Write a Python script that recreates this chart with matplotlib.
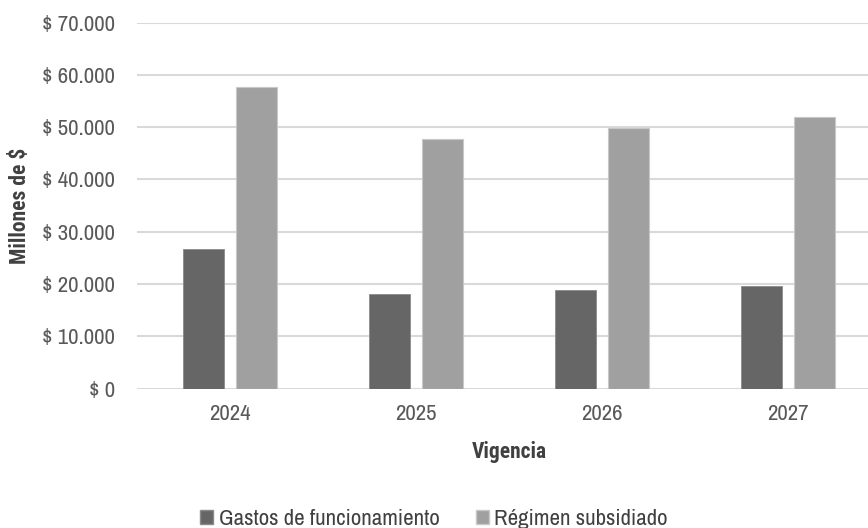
import matplotlib
matplotlib.use("Agg")
import matplotlib.pyplot as plt
import numpy as np
from matplotlib.ticker import FuncFormatter, MultipleLocator
from matplotlib.patches import Patch
from matplotlib import font_manager

categories = ["2024", "2025", "2026", "2027"]
gastos = [26750, 18090, 18780, 19550]
regimen = [57650, 47780, 49800, 51900]
series_names = ["Gastos de funcionamiento", "Régimen subsidiado"]

available = set(f.name for f in font_manager.fontManager.ttflist)
def pick(cands):
    for c in cands:
        if c in available:
            return c
    return 'Liberation Sans'
reg_font = pick(['Liberation Sans Narrow', 'Arial Narrow', 'Archivo Narrow', 'Roboto Condensed'])
bold_font = pick(['Liberation Sans Narrow', 'Arial Narrow', 'Roboto Condensed', 'Barlow Semi Condensed', 'Archivo Narrow'])

plt.rcParams['font.family'] = [reg_font, 'DejaVu Sans']

fig = plt.figure(figsize=(8.68, 5.28), dpi=100)
ax = fig.add_axes([137/868, 1-388.5/528, 743.6/868, (388.5-22.5)/528])

x = np.arange(len(categories))
w = 0.22
off = 0.143
ax.bar(x - off, gastos, width=w, color="#666666", edgecolor="#8a8a8a", linewidth=0.6, zorder=3)
ax.bar(x + off, regimen, width=w, color="#A0A0A0", edgecolor="#C8C8C8", linewidth=0.8, zorder=3)

ax.set_xlim(-0.5, 3.5)
ax.set_ylim(0, 70000)
ax.yaxis.set_major_locator(MultipleLocator(10000))
ax.yaxis.set_major_formatter(FuncFormatter(lambda v, p: "$ " + f"{int(v):,}".replace(",", ".")))
ax.set_xticks(x)
ax.set_xticklabels(categories)
ax.grid(axis='y', color="#D9D9D9", linewidth=1.5, zorder=0)
for s in ax.spines.values():
    s.set_visible(False)
ax.tick_params(axis='both', length=0, labelsize=16.5, labelcolor="#595959")
ax.tick_params(axis='y', pad=16)
ax.tick_params(axis='x', pad=11)
ax.set_ylabel("Millones de $", fontsize=15.5, fontweight='bold', color="#404040", family=[bold_font, 'DejaVu Sans'])
ax.yaxis.set_label_coords(-117/743.6, 0.5)
ax.set_xlabel("Vigencia", fontsize=15.5, fontweight='bold', color="#404040", family=[bold_font, 'DejaVu Sans'])
ax.xaxis.set_label_coords(0.5, -(452-388.5)/366)
ax.xaxis.label.set_va('center')
ax.yaxis.label.set_va('center')

handles = [Patch(facecolor="#666666", edgecolor="#8a8a8a"), Patch(facecolor="#A0A0A0", edgecolor="#C8C8C8")]
fig.legend(handles, series_names, loc='center', bbox_to_anchor=(0.5, 1-519/528), ncol=2,
           frameon=False, fontsize=16.5, labelcolor="#404040", handlelength=0.55, handleheight=0.55,
           handletextpad=0.25, columnspacing=1.6)

fig.savefig("out.png", dpi=100)
